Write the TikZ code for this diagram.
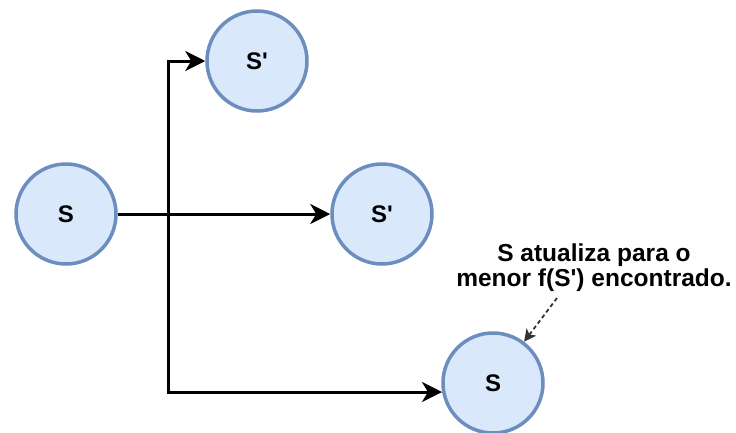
\documentclass[tikz,border=0pt]{standalone}
\usepackage{fontspec}
\setmainfont{Liberation Sans}
\usetikzlibrary{arrows.meta}
\tikzset{
	state/.style={circle, draw=stateborder, fill=statefill, line width=3.5pt,
		minimum size=100pt, inner sep=0pt, font=\bfseries\fontsize{24}{29}\selectfont},
	flow/.style={line width=3pt, black, -{Stealth[length=20pt,width=20pt,inset=6pt]}},
	hint/.style={line width=1.8pt, black!80, dashed, dash pattern=on 4pt off 3pt,
		-{Stealth[length=12pt,width=12pt,inset=3pt]}}
}
\definecolor{statefill}{HTML}{DAE8FC}
\definecolor{stateborder}{HTML}{6C8EBF}

\begin{document}
\begin{tikzpicture}[x=1pt,y=-1pt]
		\tikzstyle{every node}=[font=\bfseries\fontsize{24.5}{25}\selectfont]
		\useasboundingbox (0,0) rectangle (736,432);

		% Draw states
		\node[state] (s) at (66,214) {S};
		\node[state] (sa) at (257,61) {S\textquotesingle};
		\node[state] (sb) at (382,214) {S\textquotesingle};
		\node[state] (snew) at (493,383) {S};

		% -----------------------------------------------------
		\coordinate (split) at (168,214);
		\coordinate (low) at (442,392);
		\draw[flow] (s.east) -- (split) |- (sa);
		\draw[flow] (s.east) -- (split) -- (sb);
		\draw[flow] (s.east) -- (split) |- (low);

		% -----------------------------------------------------
		\node[align=center] (note) at (594,268) {S atualiza para o\\menor f(S\textquotesingle) encontrado.};
		\coordinate (tail) at (557,298);
		\draw[hint] (tail) -- (snew);

\end{tikzpicture}
\end{document}
